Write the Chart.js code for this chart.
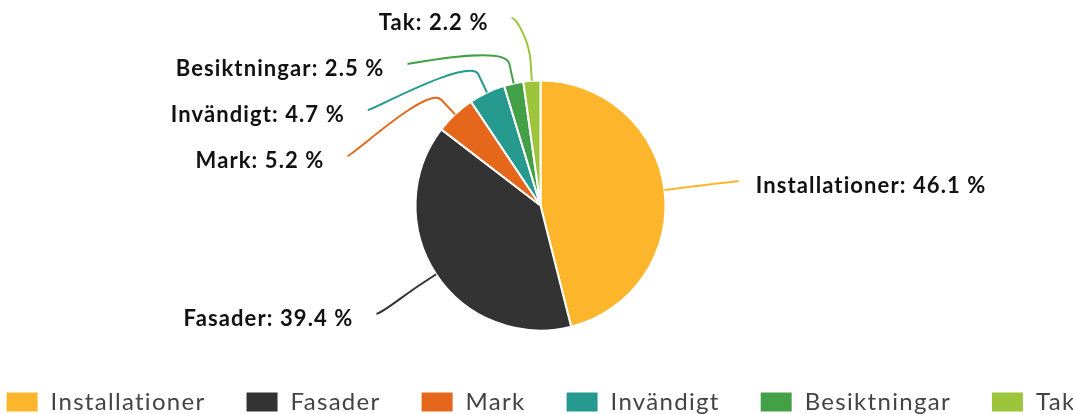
<!DOCTYPE html>
<html>
<head>
<meta charset="utf-8">
<script src="https://cdn.jsdelivr.net/npm/chart.js@4.4.1/dist/chart.umd.min.js"></script>
<style>
  html, body { margin: 0; padding: 0; background: #fff; overflow: hidden; }
  #wrap { width: 1073px; height: 414px; position: relative; left: 4px; }
</style>
</head>
<body>
<div id="wrap"><canvas id="grafico"></canvas></div>
<script>
// datos del grafico
const categorias = ['Installationer', 'Fasader', 'Mark', 'Invändigt', 'Besiktningar', 'Tak'];
const valores = [46.1, 39.4, 5.2, 4.7, 2.5, 2.2];
const colores = ['#FDB62B', '#333333', '#E5671B', '#279A8F', '#43A047', '#9DC53B'];

// etiquetas con lineas curvas hacia cada porcion
const etiquetasPlugin = {
  id: 'etiquetas',
  afterDatasetsDraw(chart) {
    const ctx = chart.ctx;
    const meta = chart.getDatasetMeta(0);
    const arcos = meta.data;
    if (!arcos.length) return;
    const cx = arcos[0].x, cy = arcos[0].y, r = arcos[0].outerRadius;
    const dist = r + 72;
    // elipse donde terminan los conectores
    const ejeX = r + 75, ejeY = r + 64.5;
    const topeY = 18, sep = 46;

    const items = arcos.map((arc, i) => {
      const mid = (arc.startAngle + arc.endAngle) / 2;
      const cos = Math.cos(mid), sin = Math.sin(mid);
      return {
        i, cos, sin,
        izq: cos < 0,
        natY: cy + sin * dist,
        toca: { x: cx + cos * r, y: cy + sin * r },
        quiebre: { x: cx + cos * (r + 20), y: cy + sin * (r + 20) }
      };
    });

    // repartir verticalmente para que no se pisen
    [true, false].forEach(lado => {
      const grupo = items.filter(it => it.izq === lado).sort((a, b) => a.natY - b.natY);
      let prev = -Infinity;
      grupo.forEach(it => {
        it.y = Math.max(it.natY, prev + sep, topeY);
        prev = it.y;
      });
    });

    ctx.save();
    items.forEach(it => {
      const dy = it.y - cy;
      const dx = ejeX * Math.sqrt(Math.max(1 - (dy / ejeY) ** 2, 0));
      const ax = it.izq ? cx - dx : cx + dx;
      const ay = it.y;

      // conector
      ctx.strokeStyle = colores[it.i];
      ctx.lineWidth = 2;
      ctx.beginPath();
      ctx.moveTo(ax, ay);
      ctx.bezierCurveTo(
        ax + (it.izq ? 5 : -5), ay,
        2 * it.quiebre.x - it.toca.x, 2 * it.quiebre.y - it.toca.y,
        it.quiebre.x, it.quiebre.y
      );
      ctx.lineTo(it.toca.x, it.toca.y);
      ctx.stroke();

      // texto
      ctx.font = 'bold 22px Lato';
      ctx.letterSpacing = '1.1px';
      ctx.fillStyle = '#111111';
      ctx.textBaseline = 'middle';
      ctx.textAlign = it.izq ? 'right' : 'left';
      const txt = `${categorias[it.i]}: ${valores[it.i]} %`;
      ctx.fillText(txt, it.izq ? ax - 23 : ax + 17, ay + 5);
    });
    ctx.restore();
  }
};

// espaciado de letras para la leyenda
const espaciadoPlugin = {
  id: 'espaciado',
  beforeLayout(chart) { chart.ctx.letterSpacing = '1.3px'; },
  beforeDraw(chart) { chart.ctx.letterSpacing = '1.3px'; }
};

const ctx = document.getElementById('grafico').getContext('2d');
const grafico = new Chart(ctx, {
  type: 'pie',
  data: {
    labels: categorias,
    datasets: [{
      data: valores,
      backgroundColor: colores,
      borderColor: '#ffffff',
      borderWidth: 2
    }]
  },
  options: {
    responsive: true,
    maintainAspectRatio: false,
    animation: false,
    radius: 125,
    layout: { padding: { top: 61, bottom: -10, left: -50, right: -50 } },
    plugins: {
      tooltip: { enabled: false },
      legend: {
        position: 'bottom',
        labels: {
          boxWidth: 33,
          boxHeight: 21,
          padding: 40,
          color: '#444444',
          font: { family: 'Lato', size: 24 }
        }
      }
    }
  },
  plugins: [espaciadoPlugin, etiquetasPlugin]
});
</script>
</body>
</html>
